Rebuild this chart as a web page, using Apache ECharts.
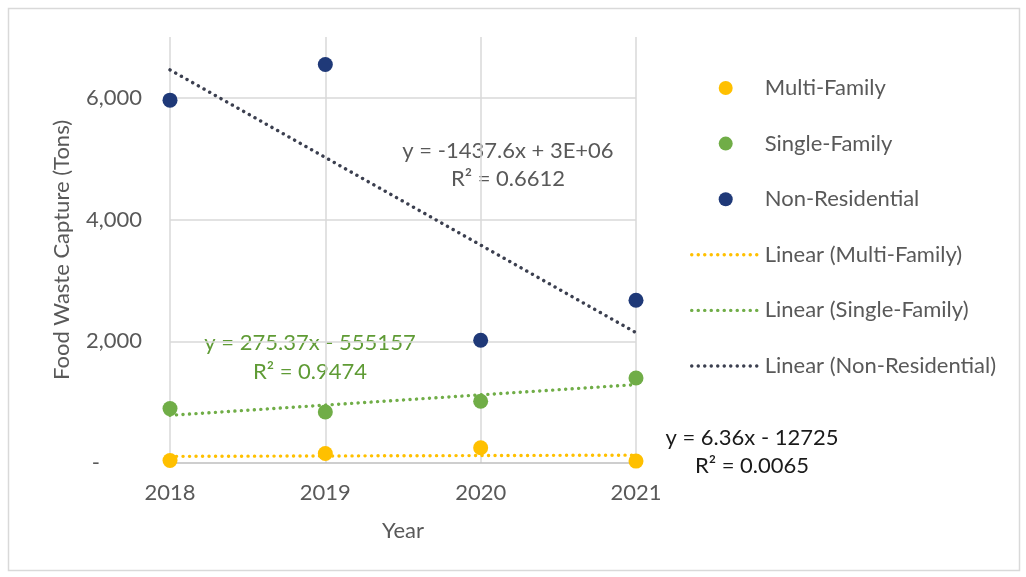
<!DOCTYPE html>
<html>
<head>
<meta charset="utf-8">
<script src="https://cdn.jsdelivr.net/npm/echarts@6/dist/echarts.min.js"></script>
<style>
  html, body { margin: 0; padding: 0; background: #fff; }
  #chart { width: 1026px; height: 577px; }
</style>
</head>
<body>
<div id="chart"></div>
<script>
// Food waste capture by sector, 2018–2021 (tons)
const years = [2018, 2019, 2020, 2021];
const multiFamily = [40, 155, 250, 31];
const singleFamily = [894, 838, 1014, 1397];
const nonResidential = [5962, 6549, 2017, 2675];

const seriesNames = ['Multi-Family', 'Single-Family', 'Non-Residential'];
const trendNames = ['Linear (Multi-Family)', 'Linear (Single-Family)', 'Linear (Non-Residential)'];

// Trendline equations as printed on the chart
const eqMulti = ['y = 6.36x - 12725', 'R² = 0.0065'];
const eqSingle = ['y = 275.37x - 555157', 'R² = 0.9474'];
const eqNonRes = ['y = -1437.6x + 3E+06', 'R² = 0.6612'];

const yTicks = [0, 2000, 4000, 6000];

const colors = { multi: '#ffc000', single: '#70ad47', nonres: '#1f3978', nonresTrend: '#3b3f4f' };
const FONT = 'Lato, "Open Sans", sans-serif';
const FS = 22;
const TEXT = '#595959';
const DOTS = { width: 3.4, type: [0.1, 6.4], cap: 'round' };

// Least-squares line across the year range
function trendline(xs, ys) {
  const n = xs.length;
  const mx = xs.reduce((a, b) => a + b, 0) / n;
  const my = ys.reduce((a, b) => a + b, 0) / n;
  let sxy = 0, sxx = 0;
  for (let i = 0; i < n; i++) { sxy += (xs[i] - mx) * (ys[i] - my); sxx += (xs[i] - mx) ** 2; }
  const b = sxy / sxx, a = my - b * mx;
  return [[xs[0], a + b * xs[0]], [xs[n - 1], a + b * xs[n - 1]]];
}

const pairs = ys => years.map((x, i) => [x, ys[i]]);

function scatter(name, ys, color) {
  return { name, type: 'scatter', data: pairs(ys), symbol: 'circle', symbolSize: 15,
           itemStyle: { color, opacity: 1 }, z: 3 };
}
function trend(name, ys, color) {
  return { name, type: 'line', data: trendline(years, ys), symbol: 'none', showSymbol: false, silent: true,
           itemStyle: { color },
           lineStyle: Object.assign({ color }, DOTS), z: 4 };
}
function trendLegend(name, color) {
  return { name, itemStyle: { opacity: 0 }, lineStyle: Object.assign({ color }, DOTS) };
}

const chart = echarts.init(document.getElementById('chart'));
chart.setOption({
  backgroundColor: '#ffffff',
  animation: false,
  grid: { left: 170, right: 390, top: 37, bottom: 114 },
  xAxis: {
    type: 'value', min: years[0], max: years[years.length - 1], interval: 1,
    name: 'Year', nameLocation: 'middle', nameGap: 57,
    nameTextStyle: { fontFamily: FONT, fontSize: FS, color: TEXT },
    axisLine: { show: true, lineStyle: { color: '#bfbfbf', width: 1.5 } },
    axisTick: { show: false },
    axisLabel: { margin: 19, fontFamily: FONT, fontSize: FS, color: TEXT, formatter: v => String(v) },
    splitLine: { show: true, lineStyle: { color: '#d9d9d9', width: 1.5 } }
  },
  yAxis: {
    type: 'value', min: 0, max: 7000, interval: 2000,
    name: 'Food Waste Capture (Tons)', nameLocation: 'middle', nameGap: 97,
    nameTextStyle: { fontFamily: FONT, fontSize: FS, color: TEXT },
    axisLine: { show: false }, axisTick: { show: false },
    axisLabel: {
      margin: 28, fontFamily: FONT, fontSize: FS, color: TEXT, showMaxLabel: false,
      formatter: v => (v === 0 ? '{d|-}' : (yTicks.includes(v) ? v.toLocaleString('en-US') : '')),
      rich: { d: { fontFamily: FONT, fontSize: FS, color: TEXT, padding: [0, 42, 0, 0] } }
    },
    splitLine: { show: true, showMinLine: false, showMaxLine: false, lineStyle: { color: '#d9d9d9', width: 1.5 } }
  },
  legend: {
    orient: 'vertical', left: 685, top: 71,
    itemWidth: 68, itemHeight: 14, itemGap: 31.6,
    selectedMode: false,
    textStyle: { fontFamily: FONT, fontSize: FS, color: TEXT, lineHeight: 24 },
    data: [
      { name: seriesNames[0], icon: 'circle' },
      { name: seriesNames[1], icon: 'circle' },
      { name: seriesNames[2], icon: 'circle' },
      trendLegend(trendNames[0], colors.multi),
      trendLegend(trendNames[1], colors.single),
      trendLegend(trendNames[2], colors.nonresTrend)
    ]
  },
  series: [
    scatter(seriesNames[0], multiFamily, colors.multi),
    scatter(seriesNames[1], singleFamily, colors.single),
    scatter(seriesNames[2], nonResidential, colors.nonres),
    trend(trendNames[0], multiFamily, colors.multi),
    trend(trendNames[1], singleFamily, colors.single),
    trend(trendNames[2], nonResidential, colors.nonresTrend)
  ],
  graphic: [
    { type: 'rect', silent: true, shape: { x: 8.5, y: 8.5, width: 1011, height: 562 },
      style: { fill: 'none', stroke: '#d9d9d9', lineWidth: 1.5 } },
    { type: 'text', x: 508, y: 165, silent: true,
      style: { text: eqNonRes.join('\n'), align: 'center', verticalAlign: 'middle',
               font: FS + 'px ' + FONT, lineHeight: 28, fill: TEXT } },
    { type: 'text', x: 310, y: 357, silent: true,
      style: { text: eqSingle.join('\n'), align: 'center', verticalAlign: 'middle',
               font: FS + 'px ' + FONT, lineHeight: 29, fill: '#5f9b35' } },
    { type: 'text', x: 752, y: 452, silent: true,
      style: { text: eqMulti.join('\n'), align: 'center', verticalAlign: 'middle',
               font: FS + 'px ' + FONT, lineHeight: 28, fill: '#1a1a1a' } }
  ]
});
</script>
</body>
</html>
